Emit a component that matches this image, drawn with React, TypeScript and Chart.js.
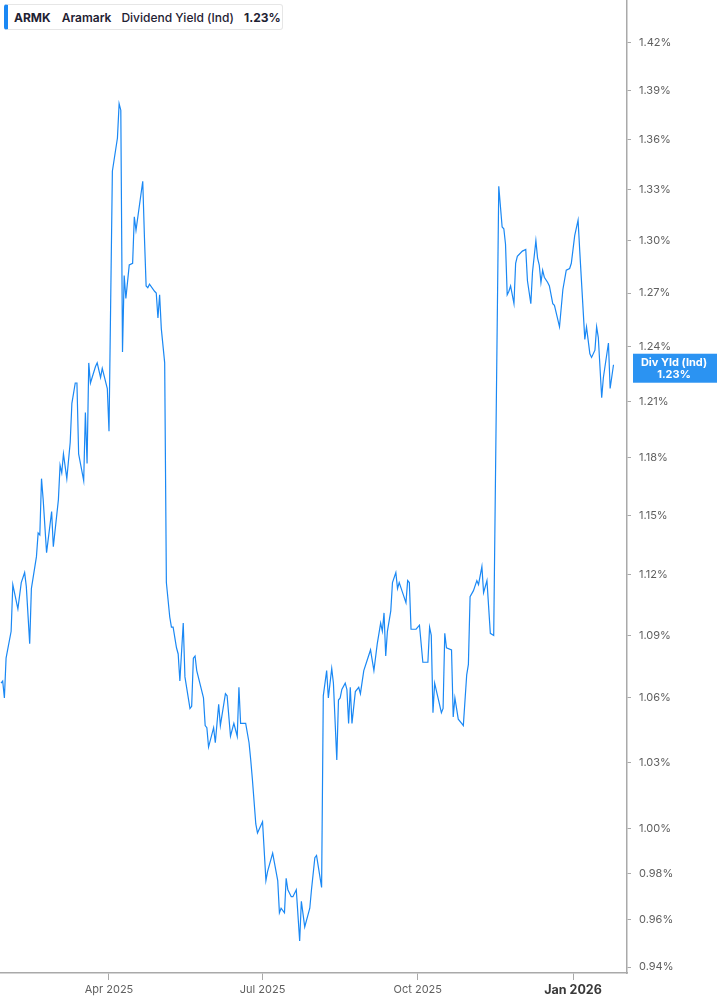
import { useEffect, useRef } from "react";
import {
  Chart,
  LineController,
  LineElement,
  PointElement,
  LinearScale,
  LogarithmicScale,
} from "chart.js";

Chart.register(LineController, LineElement, PointElement, LinearScale, LogarithmicScale);

// x values: days since 2025-01-01
const days = [
  26, 27, 28, 29, 32, 33, 36, 38, 40, 41, 43, 44, 47, 48, 49, 50, 51, 53, 56, 57,
  60, 61, 62, 63, 65, 67, 68, 70, 71, 72, 75, 76, 77, 78, 79, 82, 83, 85, 86, 89,
  90, 92, 95, 96, 97, 98, 99, 100, 102, 104, 105, 106, 110, 111, 112, 113, 114, 117, 118, 119,
  120, 121, 123, 124, 126, 127, 128, 130, 131, 132, 134, 135, 138, 139, 140, 141, 142, 146, 147, 148,
  149, 152, 153, 155, 156, 159, 160, 162, 164, 166, 167, 168, 171, 173, 174, 175, 177, 178, 181, 183,
  184, 187, 190, 191, 192, 194, 195, 196, 198, 199, 201, 203, 204, 206, 209, 210, 212, 213, 216, 217,
  219, 220, 222, 223, 225, 226, 227, 228, 230, 231, 232, 233, 234, 236, 238, 239, 241, 243, 245, 247,
  249, 251, 252, 253, 254, 255, 257, 258, 260, 261, 262, 264, 266, 267, 268, 269, 272, 274, 276, 279,
  280, 281, 282, 283, 285, 287, 288, 289, 290, 293, 294, 295, 297, 299, 300, 302, 303, 304, 306, 308,
  309, 311, 312, 314, 316, 318, 321, 323, 324, 325, 326, 327, 328, 330, 331, 332, 335, 337, 338, 340,
  341, 343, 344, 345, 346, 347, 348, 350, 351, 353, 354, 357, 359, 361, 363, 364, 366, 368, 369, 372,
  373, 375, 376, 378, 379, 380, 382, 383, 386, 387, 389,
];

// dividend yield (indicated), %
const divYield = [
  1.067, 1.068, 1.06, 1.079, 1.092, 1.115, 1.103, 1.116, 1.121, 1.114, 1.086, 1.113, 1.129, 1.141, 1.14, 1.169, 1.158, 1.131, 1.152, 1.134,
  1.158, 1.176, 1.172, 1.182, 1.169, 1.188, 1.209, 1.22, 1.22, 1.182, 1.168, 1.204, 1.177, 1.231, 1.22, 1.229, 1.231, 1.223, 1.228, 1.217,
  1.194, 1.341, 1.361, 1.382, 1.378, 1.237, 1.28, 1.267, 1.286, 1.287, 1.314, 1.306, 1.335, 1.302, 1.274, 1.273, 1.275, 1.271, 1.27, 1.256,
  1.269, 1.25, 1.231, 1.116, 1.099, 1.094, 1.094, 1.084, 1.081, 1.068, 1.096, 1.07, 1.055, 1.056, 1.079, 1.08, 1.073, 1.06, 1.047, 1.046,
  1.037, 1.046, 1.039, 1.057, 1.047, 1.062, 1.061, 1.042, 1.048, 1.042, 1.065, 1.048, 1.048, 1.039, 1.031, 1.022, 1.002, 0.998, 1.003, 0.977,
  0.981, 0.989, 0.977, 0.963, 0.965, 0.963, 0.978, 0.973, 0.97, 0.97, 0.973, 0.951, 0.968, 0.957, 0.965, 0.973, 0.987, 0.988, 0.974, 1.061,
  1.073, 1.06, 1.074, 1.067, 1.031, 1.059, 1.06, 1.064, 1.067, 1.064, 1.048, 1.065, 1.048, 1.063, 1.065, 1.062, 1.073, 1.078, 1.083, 1.073,
  1.086, 1.096, 1.092, 1.101, 1.08, 1.092, 1.102, 1.116, 1.121, 1.113, 1.116, 1.111, 1.106, 1.117, 1.116, 1.093, 1.093, 1.095, 1.077, 1.077,
  1.094, 1.09, 1.053, 1.067, 1.06, 1.053, 1.055, 1.091, 1.084, 1.083, 1.051, 1.06, 1.05, 1.048, 1.047, 1.071, 1.076, 1.109, 1.112, 1.117,
  1.115, 1.124, 1.111, 1.117, 1.091, 1.09, 1.332, 1.308, 1.307, 1.298, 1.269, 1.271, 1.274, 1.264, 1.287, 1.291, 1.294, 1.295, 1.277, 1.264,
  1.282, 1.3, 1.29, 1.286, 1.276, 1.283, 1.279, 1.276, 1.274, 1.264, 1.263, 1.251, 1.272, 1.283, 1.284, 1.287, 1.303, 1.312, 1.294, 1.244,
  1.251, 1.236, 1.234, 1.238, 1.251, 1.245, 1.212, 1.223, 1.242, 1.217, 1.23,
];

const tickDays = [90, 181, 273, 365];
const tickLabels = ["Apr 2025", "Jul 2025", "Oct 2025", "Jan 2026"];
const yTicks = [
  0.94, 0.96, 0.98, 1.0, 1.03, 1.06, 1.09, 1.12, 1.15, 1.18, 1.21, 1.24, 1.27, 1.3, 1.33, 1.36, 1.39, 1.42,
];

const LINE = "#1a88f4";
const BOX = "#2b93f2";
const AXIS = "#a9a9a9";
const FONT = "Inter, 'Noto Sans', sans-serif";
const LAST = divYield[divYield.length - 1];

const lastLabel = {
  id: "lastLabel",
  afterDraw(chart: Chart) {
    const { ctx } = chart;
    const y = chart.scales.y.getPixelForValue(LAST);
    const left = chart.chartArea.right + 6;
    const w = chart.width - left;
    ctx.save();
    ctx.fillStyle = BOX;
    ctx.fillRect(left, y - 11, w, 29);
    ctx.fillStyle = "#ffffff";
    ctx.font = `bold 11px ${FONT}`;
    ctx.textAlign = "center";
    ctx.textBaseline = "middle";
    ctx.fillText("Div Yld (Ind)", left + w / 2 - 1, y - 2);
    ctx.fillText(LAST.toFixed(2) + "%", left + w / 2 - 1, y + 10);
    ctx.restore();
  },
};

function YieldChart() {
  const canvasRef = useRef<HTMLCanvasElement>(null);

  useEffect(() => {
    const canvas = canvasRef.current;
    if (!canvas) return;
    const chart = new Chart(canvas.getContext("2d")!, {
      type: "line",
      data: {
        datasets: [
          {
            data: days.map((d, i) => ({ x: d, y: divYield[i] })),
            borderColor: LINE,
            borderWidth: 1.2,
            pointRadius: 0,
            tension: 0,
            fill: false,
          },
        ],
      },
      options: {
        responsive: true,
        maintainAspectRatio: false,
        animation: false,
        events: [],
        layout: { padding: 0 },
        plugins: { legend: { display: false }, tooltip: { enabled: false } },
        scales: {
          x: {
            type: "linear",
            min: 25.4,
            max: 397,
            afterBuildTicks: (scale: any) => {
              scale.ticks = tickDays.map((v) => ({ value: v }));
            },
            afterFit: (scale: any) => {
              scale.height = 32;
            },
            ticks: {
              autoSkip: false,
              maxRotation: 0,
              padding: 3,
              callback: (v: any) => tickLabels[tickDays.indexOf(Number(v))] ?? "",
              color: (c: any) => (c.tick && c.tick.value === 365 ? "#3a3a3a" : "#5f5f5f"),
              font: (c: any) =>
                c.tick && c.tick.value === 365
                  ? { family: FONT, size: 12.5, weight: "bold" }
                  : { family: FONT, size: 11 },
            },
            grid: {
              drawOnChartArea: false,
              drawTicks: true,
              tickLength: 7,
              tickColor: AXIS,
            },
            border: { display: true, color: AXIS, width: 1.5 },
          },
          y: {
            type: "logarithmic",
            position: "right",
            min: 0.9375,
            max: 1.4475,
            afterBuildTicks: (scale: any) => {
              scale.ticks = yTicks.map((v) => ({ value: v }));
            },
            afterFit: (scale: any) => {
              scale.width = 90;
              scale.paddingTop = 0;
              scale.paddingBottom = 0;
            },
            ticks: {
              autoSkip: false,
              padding: 8,
              color: "#5f5f5f",
              font: { family: FONT, size: 11 },
              callback: (v: any) => Number(v).toFixed(2) + "%",
            },
            grid: {
              drawOnChartArea: false,
              drawTicks: true,
              tickLength: 4,
              tickColor: AXIS,
            },
            border: { display: true, color: AXIS, width: 1.5 },
          },
        },
      } as any,
      plugins: [lastLabel],
    });
    return () => chart.destroy();
  }, []);

  return <canvas ref={canvasRef} />;
}

export default function App() {
  useEffect(() => {
    document.body.style.margin = "0";
  }, []);

  return (
    <div style={{ position: "relative", width: 717, height: 1005, background: "#fff", fontFamily: FONT }}>
      <div style={{ position: "absolute", inset: 0 }}>
        <YieldChart />
      </div>
      <div
        style={{
          position: "absolute",
          left: 4,
          top: 4,
          width: 279,
          height: 26,
          boxSizing: "border-box",
          background: "#fff",
          border: "1px solid #e6e6e6",
          borderLeft: "4px solid #1a88f4",
          borderRadius: 3,
          display: "flex",
          alignItems: "center",
          paddingLeft: 6,
          fontSize: 12,
          color: "#1f2233",
          whiteSpace: "nowrap",
        }}
      >
        <span style={{ fontWeight: 700 }}>ARMK</span>
        <span style={{ fontWeight: 600, marginLeft: 11 }}>Aramark</span>
        <span style={{ fontWeight: 500, marginLeft: 10 }}>Dividend Yield (Ind)</span>
        <span style={{ fontWeight: 700, marginLeft: 10 }}>1.23%</span>
      </div>
    </div>
  );
}
